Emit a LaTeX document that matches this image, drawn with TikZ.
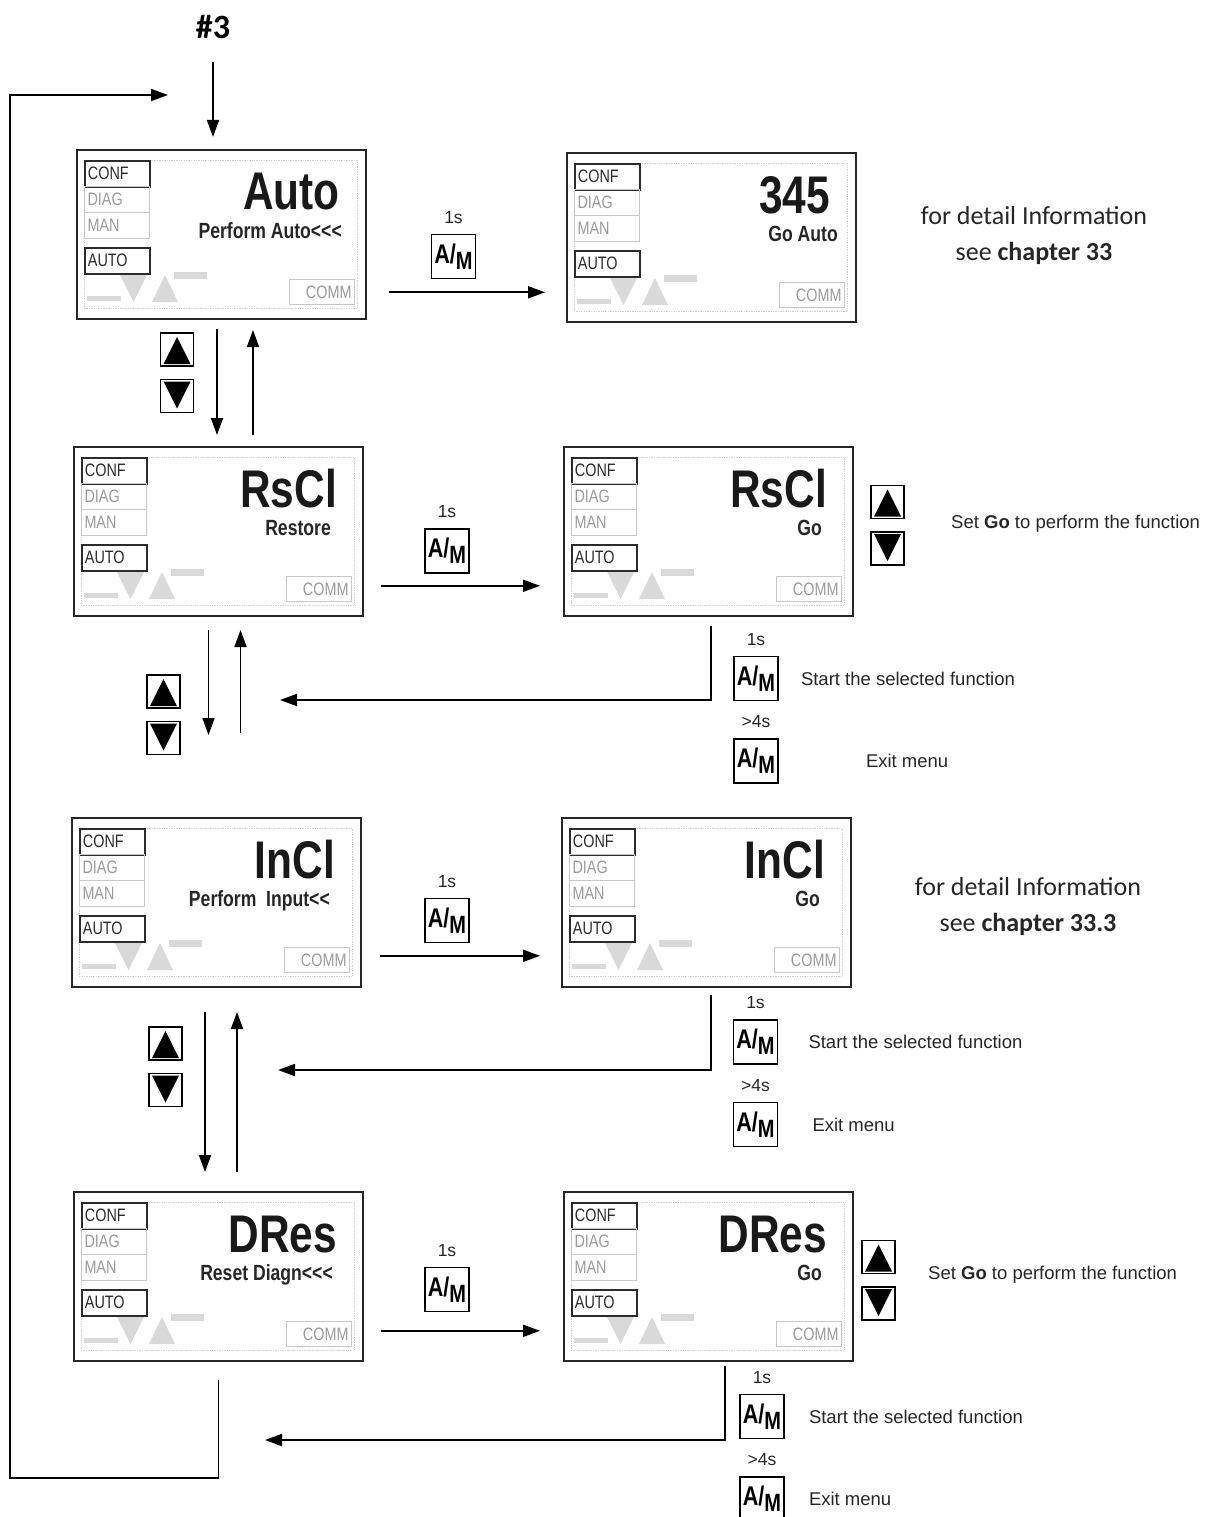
\documentclass[tikz,border=0pt]{standalone}
\usepackage{fontspec}
\setmainfont{Liberation Sans}
\newfontfamily\narrowfont[FakeStretch=0.8]{Liberation Sans}
\newfontfamily\calfont{Carlito}
\usetikzlibrary{arrows.meta, positioning, calc}
\definecolor{lcdText}{HTML}{2B2B2B}
\definecolor{lcdDim}{HTML}{9A9A9A}
\definecolor{lcdEdge}{HTML}{C8C8C8}
\definecolor{lcdLight}{HTML}{D9D9D9}

\tikzset{
  flow/.style={line width=1.8pt, -{Triangle[length=17pt, width=12pt]}},
  lcdframe/.style={draw=black!85, line width=2pt, minimum width=289pt, minimum height=169pt, inner sep=0pt, anchor=north west},
  lcdinner/.style={draw=black!18, line width=0.7pt, densely dotted},
  modebox/.style={draw=lcdText, line width=1.8pt, anchor=north west, minimum height=26pt, text width=59pt, inner xsep=3pt, inner ysep=0pt, text height=12pt, text depth=0pt, text=lcdText, font=\narrowfont\fontsize{18}{18}\selectfont},
  dimbox/.style={draw=lcdEdge, line width=1pt, text=lcdDim},
  lcdtitle/.style={anchor=base east, inner sep=0pt, text=black!90, font=\narrowfont\bfseries\fontsize{53}{53}\selectfont},
  lcdsub/.style={anchor=base east, inner sep=0pt, text=black!85, font=\narrowfont\bfseries\fontsize{22}{22}\selectfont},
  amkey/.style={draw, line width=1.6pt, minimum size=44pt, inner sep=0pt, font=\narrowfont\bfseries\fontsize{27}{27}\selectfont},
  udkey/.style={draw, line width=1.5pt, minimum size=33pt, inner sep=0pt},
  upkey/.style={udkey, path picture={\fill ([xshift=3pt,yshift=2pt]path picture bounding box.south west) -- ([xshift=-3pt,yshift=2pt]path picture bounding box.south east) -- ([yshift=-4pt]path picture bounding box.north) -- cycle;}},
  downkey/.style={udkey, path picture={\fill ([xshift=3pt,yshift=-2pt]path picture bounding box.north west) -- ([xshift=-3pt,yshift=-2pt]path picture bounding box.north east) -- ([yshift=4pt]path picture bounding box.south) -- cycle;}},
  timelbl/.style={inner sep=1pt, text=black!85, font=\fontsize{17.5}{17.5}\selectfont},
  hint/.style={anchor=west, inner sep=1pt, text=black!85, font=\fontsize{18.5}{18.5}\selectfont},
  infonote/.style={align=center, inner sep=1pt, text=black!85, font=\calfont\fontsize{26}{36}\selectfont},
}

% one display: name, top-left x, top-left y, title, subtitle, subtitle right edge
\newcommand{\lcdpanel}[6]{%
  \begin{scope}[shift={(#2,#3)}]
    \node[lcdframe] (#1) at (0,0) {};
    \draw[lcdinner] (8,11) rectangle (281,159);
    \node[modebox] (#1conf) at (8,11) {CONF};
    \node[modebox, dimbox] (#1diag) at (8,37) {DIAG};
    \node[modebox, dimbox] (#1man) at (8,63) {MAN};
    \node[modebox] (#1auto) at (8,98) {AUTO};
    \node[modebox, dimbox, minimum height=25pt, align=right] (#1comm) at (213,130) {COMM};
    \fill[lcdLight] (44,126) -- (71,126) -- (57.5,153) -- cycle;
    \fill[lcdLight] (76,153) -- (102,153) -- (89,126) -- cycle;
    \fill[lcdLight] (11,147) rectangle (45,152);
    \fill[lcdLight] (98,123) rectangle (131,130);
    \node[lcdtitle] (#1title) at (264,61) {#4};
    \node[lcdsub] (#1sub) at (#6,89) {#5};
  \end{scope}}

\newcommand{\amtext}{A/\raisebox{-6pt}{\fontsize{25}{25}\selectfont M}}

\begin{document}
\begin{tikzpicture}[x=1pt, y=-1pt]
  \useasboundingbox (0,0) rectangle (1217,1517);

  % displays
  \foreach \nm/\px/\py/\ttl/\sbt/\sx in {
    autoL/76/149/Auto/Perform Auto<<</266,
    autoR/566/152/345/Go Auto/272,
    rsclL/73/446/RsCl/Restore/258,
    rsclR/563/446/RsCl/Go/259,
    inclL/71/817/InCl/Perform\ \ Input<</259,
    inclR/561/817/InCl/Go/259,
    dresL/73/1191/DRes/Reset Diagn<<</260,
    dresR/563/1191/DRes/Go/259}
    {\lcdpanel{\nm}{\px}{\py}{\ttl}{\sbt}{\sx}}

  % entry
  \node[font=\calfont\bfseries\fontsize{34}{34}\selectfont, inner sep=0pt] (entryhash) at (213,27) {\#3};
  \draw[flow, shorten >=12pt] ([yshift=-35pt]entryhash.center) -- (entryhash.center |- autoL.north);
  \coordinate (loopcorner) at (10,1478);
  \coordinate (loopentry) at (168,95);
  \draw[flow] ($(dresL.south)+(0,18)$) |- (loopcorner) |- (loopentry);

  % A/M keys between the displays
  \node[amkey] (amk1) at (453.5,256.5) {\amtext};
  \node[amkey] (amk2) at (447,551) {\amtext};
  \node[amkey] (amk3) at (447,920.5) {\amtext};
  \node[amkey] (amk4) at (447,1289.5) {\amtext};
  \foreach \k in {amk1, amk2, amk3, amk4}
    \node[timelbl, above=9pt of \k] (\k time) {1s};
  \draw[flow, shorten <=22pt, shorten >=21pt] ($(amk1.south -| autoL.east)+(0,13)$) -- ($(amk1.south -| autoR.west)+(0,13)$);
  \draw[flow, shorten <=17pt, shorten >=23pt] ($(amk2.south -| rsclL.east)+(0,12)$) -- ($(amk2.south -| rsclR.west)+(0,12)$);
  \draw[flow, shorten <=18pt, shorten >=21pt] ($(amk3.south -| inclL.east)+(0,12.5)$) -- ($(amk3.south -| inclR.west)+(0,12.5)$);
  \draw[flow, shorten <=17pt, shorten >=23pt] ($(amk4.south -| dresL.east)+(0,18.5)$) -- ($(amk4.south -| dresR.west)+(0,18.5)$);

  % up/down keys and the vertical steps
  \node[upkey] (ud1u) at (177,349.5) {};
  \node[downkey, below=12pt of ud1u] (ud1d) {};
  \node[upkey] (ud2u) at (163.5,691.5) {};
  \node[downkey, below=12pt of ud2u] (ud2d) {};
  \node[upkey] (ud3u) at (165.5,1043.5) {};
  \node[downkey, below=12pt of ud3u] (ud3d) {};
  \draw[flow, shorten <=9pt, shorten >=11pt] ($(autoL.south)+(-4.5,0)$) -- ($(autoL.south |- rsclL.north)+(-4.5,0)$);
  \draw[flow, shorten <=11pt, shorten >=10pt] ($(autoL.south |- rsclL.north)+(31.5,0)$) -- ($(autoL.south)+(31.5,0)$);
  \draw[flow, shorten <=13pt, shorten >=82pt] ($(rsclL.south)+(-10,0)$) -- ($(rsclL.south |- inclL.north)+(-10,0)$);
  \draw[flow, shorten <=84pt, shorten >=13pt] ($(rsclL.south |- inclL.north)+(22,0)$) -- ($(rsclL.south)+(22,0)$);
  \draw[flow, shorten <=24pt, shorten >=19pt] ($(inclL.south)+(-11.5,0)$) -- ($(inclL.south |- dresL.north)+(-11.5,0)$);
  \draw[flow, shorten <=19pt, shorten >=24pt] ($(inclL.south |- dresL.north)+(20.5,0)$) -- ($(inclL.south)+(20.5,0)$);

  % confirm / exit from the Go displays
  \coordinate (back2) at (280,700);
  \coordinate (back3) at (278,1070);
  \coordinate (back4) at (265,1440);
  \draw[flow] ($(rsclR.south)+(2.5,9)$) |- (back2);
  \draw[flow] ($(inclR.south)+(4.5,7)$) |- (back3);
  \draw[flow] ($(dresR.south)+(16.5,4)$) |- (back4);
  \node[amkey] (amk2s) at (756,678.5) {\amtext};
  \node[amkey, below=37pt of amk2s] (amk2x) {\amtext};
  \node[amkey] (amk3s) at (755.5,1042) {\amtext};
  \node[amkey, below=37pt of amk3s] (amk3x) {\amtext};
  \node[amkey] (amk4s) at (762,1416.5) {\amtext};
  \node[amkey, below=37pt of amk4s] (amk4x) {\amtext};
  \foreach \k in {amk2s, amk3s, amk4s}
    \node[timelbl, above=9pt of \k] (\k time) {1s};
  \foreach \k in {amk2x, amk3x, amk4x}
    \node[timelbl, above=9pt of \k] (\k time) {>4s};
  \node[hint, right=21pt of amk2s] (start2) {Start the selected function};
  \node[hint, right=86pt of amk2x] (exit2) {Exit menu};
  \node[hint, right=29pt of amk3s] (start3) {Start the selected function};
  \node[hint, right=33pt of amk3x] (exit3) {Exit menu};
  \node[hint, right=23pt of amk4s] (start4) {Start the selected function};
  \node[hint, right=23pt of amk4x] (exit4) {Exit menu};

  % set Go keys
  \node[upkey] (ud2ru) at (887.5,502) {};
  \node[downkey, below=12pt of ud2ru] (ud2rd) {};
  \node[upkey] (ud4ru) at (878.5,1257) {};
  \node[downkey, below=12pt of ud4ru] (ud4rd) {};
  \node[hint] (setgo2) at (950,524) {Set \textbf{Go} to perform the function};
  \node[hint] (setgo4) at (927,1275) {Set \textbf{Go} to perform the function};

  % chapter references
  \node[infonote] (info1) at (1034,236) {for detail Information\\see \textbf{chapter 33}};
  \node[infonote] (info3) at (1028,906.5) {for detail Information\\see \textbf{chapter 33.3}};
\end{tikzpicture}
\end{document}
